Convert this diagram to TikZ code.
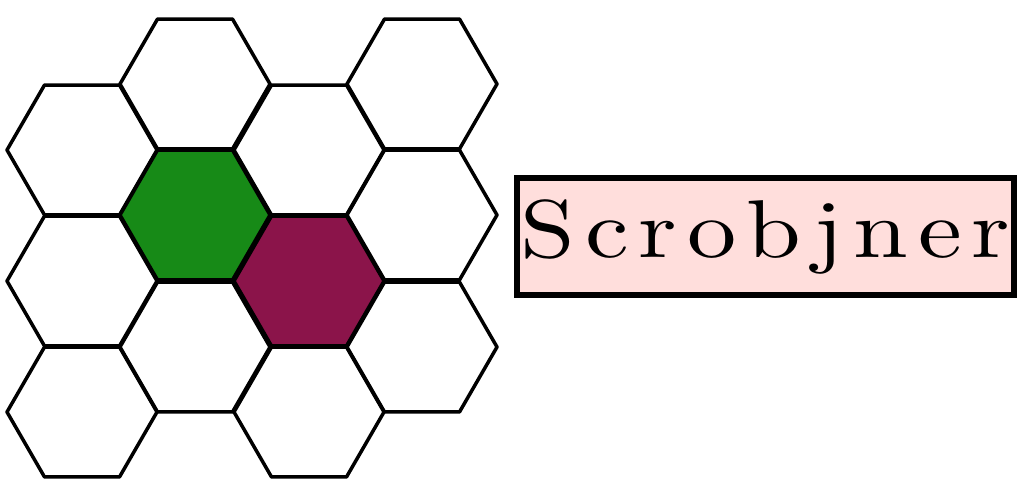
\documentclass[tikz,border=0pt]{standalone}
\usepackage{fontspec}
\usepackage{graphicx}
\usetikzlibrary{shapes.geometric}
\newfontfamily\namefont[LetterSpace=10]{lmroman10-regular.otf}
\definecolor{cellgreen}{HTML}{178A17}
\definecolor{cellplum}{HTML}{8B144A}
\definecolor{labelpink}{HTML}{FFDEDC}
\tikzset{
	hexcell/.style={regular polygon, regular polygon sides=6, draw=black, line width=3.5pt,
		minimum size=150pt, inner sep=0pt, outer sep=0pt, line join=round},
	namebox/.style={draw=black, fill=labelpink, line width=6pt, minimum width=497pt,
		minimum height=117pt, inner sep=0pt}
}
\begin{document}
\begin{tikzpicture}[x=1pt, y=-1pt]
		\useasboundingbox (0,0) rectangle (1024,500);
		\node[hexcell] (a1) at (82,150) {};
		\node[hexcell] (a2) at (82,281) {};
		\node[hexcell] (a3) at (82,412) {};
		\node[hexcell] (b1) at (195,84) {};
		\node[hexcell, fill=cellgreen] (b2) at (195,215) {};
		\node[hexcell] (b3) at (195,347) {};
		\node[hexcell] (c1) at (309,150) {};
		\node[hexcell, fill=cellplum] (c2) at (309,281) {};
		\node[hexcell] (c3) at (309,412) {};
		\node[hexcell] (d1) at (422,84) {};
		\node[hexcell] (d2) at (422,215) {};
		\node[hexcell] (d3) at (422,347) {};
		\node[namebox] (name) at (765.5,236.5)
			{\scalebox{1.2}[1]{\namefont\fontsize{82}{86}\selectfont Scrobjner}};
	\end{tikzpicture}
\end{document}
